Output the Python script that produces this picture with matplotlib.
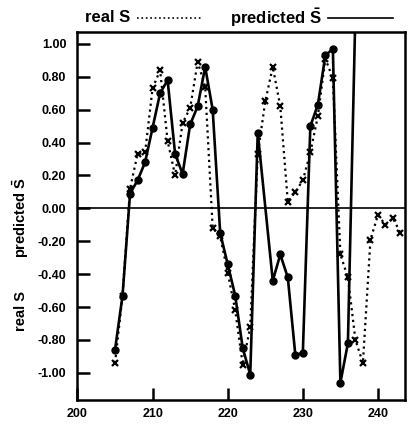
import numpy as np
import matplotlib
matplotlib.use('Agg')
import matplotlib.pyplot as plt
from matplotlib.lines import Line2D

plt.rcParams['font.family'] = ['Liberation Sans', 'DejaVu Sans']
plt.rcParams['font.weight'] = 'bold'
plt.rcParams['mathtext.fontset'] = 'custom'
plt.rcParams['mathtext.rm'] = 'Liberation Sans:bold'
plt.rcParams['mathtext.bf'] = 'Liberation Sans:bold'

# real S (dotted, x markers)
days_real = list(range(205, 244))
real_s = [-0.94, -0.53, 0.12, 0.33, 0.34, 0.73, 0.84, 0.41, 0.20, 0.52,
          0.61, 0.89, 0.74, -0.12, -0.17, -0.39, -0.62, -0.95, -0.72, 0.33,
          0.65, 0.86, 0.62, 0.04, 0.10, 0.17, 0.34, 0.56, 0.91, 0.79,
          -0.28, -0.42, -0.80, -0.94, -0.19, -0.04, -0.10, -0.06, -0.15]

# predicted S-bar (solid, filled circles); no point at 225, last one runs off the top
days_pred = [205, 206, 207, 208, 209, 210, 211, 212, 213, 214, 215, 216, 217,
             218, 219, 220, 221, 222, 223, 224, 226, 227, 228, 229, 230, 231,
             232, 233, 234, 235, 236, 237]
pred_s = [-0.86, -0.53, 0.09, 0.17, 0.28, 0.49, 0.70, 0.78, 0.33, 0.21,
          0.51, 0.62, 0.86, 0.60, -0.15, -0.34, -0.53, -0.85, -1.01, 0.46,
          -0.44, -0.28, -0.42, -0.89, -0.88, 0.50, 0.63, 0.93, 0.97, -1.06,
          -0.82, 1.20]

xticks = [200, 210, 220, 230, 240]
yticks = [-1.0, -0.8, -0.6, -0.4, -0.2, 0.0, 0.2, 0.4, 0.6, 0.8, 1.0]

fig = plt.figure(figsize=(4.12, 4.26), dpi=100)
ax = fig.add_axes([0.188, 0.061, 0.795, 0.863])

ax.axhline(0, color='black', lw=1.2, zorder=1)
ax.plot(days_real, real_s, color='black', ls=':', lw=1.6, marker='x',
        ms=4.5, mew=1.6, zorder=3)
ax.plot(days_pred, pred_s, color='black', ls='-', lw=1.9, marker='o',
        ms=5, zorder=2)

ax.set_xlim(200, 243.6)
ax.set_ylim(-1.165, 1.07)
ax.set_xticks(xticks)
ax.set_yticks(yticks)
ax.set_yticklabels(['%.2f' % v for v in yticks])
ax.tick_params(direction='in', length=9, width=1.8, labelsize=9)
ax.tick_params(axis='y', pad=8)
ax.tick_params(axis='x', pad=6)
for sp in ax.spines.values():
    sp.set_linewidth(1.8)

# axis label, two pieces
fig.text(0.05, 0.27, 'real S', rotation=90, ha='center', va='center', fontsize=10.5)
fig.text(0.05, 0.49, r'predicted $\mathbf{\bar{S}}$', rotation=90, ha='center',
         va='center', fontsize=10.5)

# legend on top
fig.text(0.206, 0.958, 'real S', ha='left', va='center', fontsize=12)
fig.add_artist(Line2D([0.333, 0.493], [0.957, 0.957], color='black', ls=':', lw=1.2))
fig.text(0.558, 0.958, r'predicted $\mathbf{\bar{S}}$', ha='left', va='center', fontsize=12)
fig.add_artist(Line2D([0.796, 0.954], [0.957, 0.957], color='black', ls='-', lw=1.2))

fig.savefig('out.png', dpi=100)
